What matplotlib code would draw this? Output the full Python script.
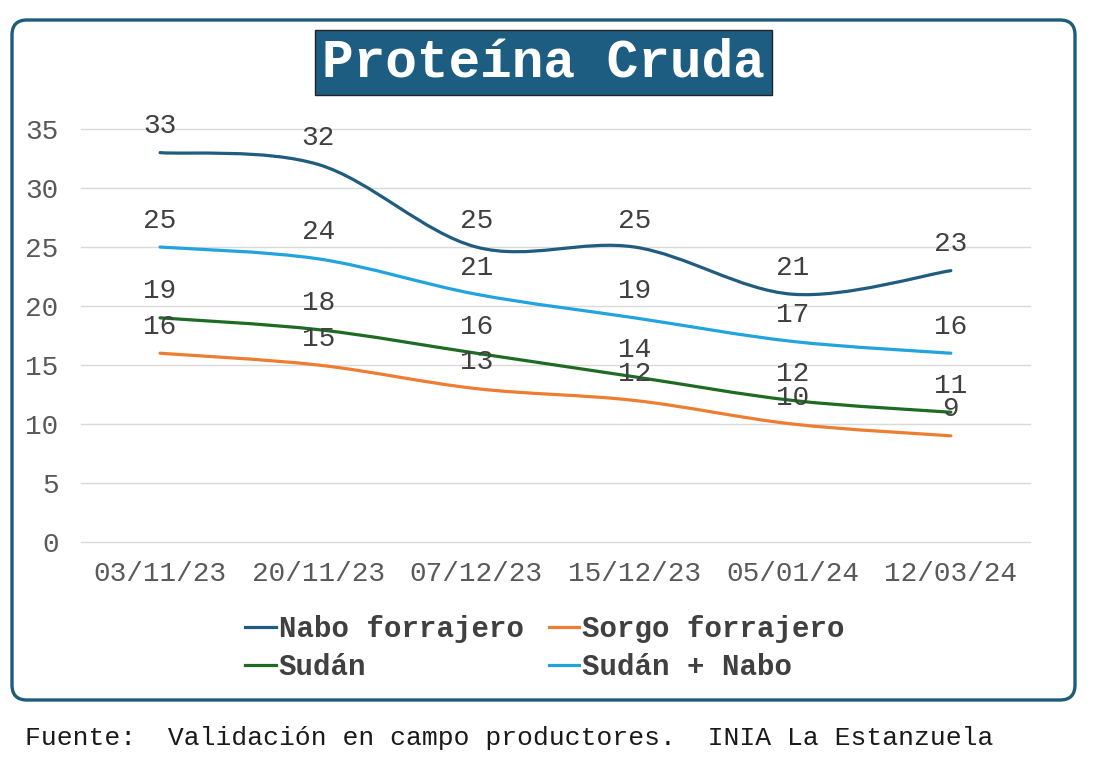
import matplotlib.pyplot as plt
from matplotlib.patches import FancyBboxPatch, PathPatch, Rectangle
from matplotlib.path import Path
from matplotlib.lines import Line2D

# data

fechas = ['03/11/23', '20/11/23', '07/12/23', '15/12/23', '05/01/24', '12/03/24']
nabo = [33, 32, 25, 25, 21, 23]
sorgo = [16, 15, 13, 12, 10, 9]
sudan = [19, 18, 16, 14, 12, 11]
sudan_nabo = [25, 24, 21, 19, 17, 16]

series = [('Nabo forrajero', nabo, '#1F5C7F'),
          ('Sorgo forrajero', sorgo, '#ED7D31'),
          ('Sudán', sudan, '#1E6B23'),
          ('Sudán + Nabo', sudan_nabo, '#21A3DD')]

FONT = 'Liberation Mono'


def smooth_path(xs, ys):
    # excel-like smoothed line: cubic bezier with catmull-rom control points
    pts = list(zip(xs, ys))
    verts = [pts[0]]
    codes = [Path.MOVETO]
    n = len(pts)
    for i in range(n - 1):
        p0 = pts[i - 1] if i > 0 else pts[i]
        p1 = pts[i]
        p2 = pts[i + 1]
        p3 = pts[i + 2] if i + 2 < n else pts[i + 1]
        c1 = (p1[0] + (p2[0] - p0[0]) / 6, p1[1] + (p2[1] - p0[1]) / 6)
        c2 = (p2[0] - (p3[0] - p1[0]) / 6, p2[1] - (p3[1] - p1[1]) / 6)
        verts += [c1, c2, p2]
        codes += [Path.CURVE4] * 3
    return Path(verts, codes)


fig = plt.figure(figsize=(11.12, 7.75), dpi=100)

# rounded frame around the chart
frame = FancyBboxPatch((0.12, 0.75), 10.63, 6.80,
                       boxstyle='round,pad=0,rounding_size=0.15',
                       transform=fig.dpi_scale_trans, facecolor='white',
                       edgecolor='#1F5C7A', linewidth=2.4, zorder=-1)
fig.patches.append(frame)

ax = fig.add_axes([0.0728, 0.3006, 0.8534, 0.5329])
ax.set_zorder(2)
ax.set_facecolor('none')
ax.set_xlim(-0.5, len(fechas) - 0.5)
ax.set_ylim(0, 35)
ax.set_yticks(range(0, 36, 5))
ax.set_xticks(range(len(fechas)))
ax.set_xticklabels(fechas)
for s in ax.spines.values():
    s.set_visible(False)
ax.grid(True, axis='y', color='#D9D9D9', linewidth=1)
ax.set_axisbelow(True)
for gl in ax.get_ygridlines():
    gl.set_clip_on(False)
ax.tick_params(axis='both', length=0, labelsize=20, labelcolor='#595959')
ax.tick_params(axis='y', pad=16)
ax.tick_params(axis='x', pad=14)
for lab in ax.get_xticklabels() + ax.get_yticklabels():
    lab.set_fontfamily(FONT)

xs = list(range(len(fechas)))
handles = []
for name, vals, col in series:
    patch = PathPatch(smooth_path(xs, vals), facecolor='none', edgecolor=col,
                      linewidth=2.3, capstyle='round', zorder=3)
    ax.add_patch(patch)
    for x, v in zip(xs, vals):
        ax.annotate(str(v), (x, v), xytext=(0, 19), textcoords='offset points',
                    ha='center', va='center', fontsize=20, color='#404040',
                    family=FONT, zorder=5)
    handles.append(Line2D([], [], color=col, linewidth=2.3, label=name))

# title box
title_box = Rectangle((3.15, 6.80), 4.57, 0.65, transform=fig.dpi_scale_trans,
                      facecolor='#1C5D81', edgecolor='#222222', linewidth=1, zorder=4)
fig.patches.append(title_box)
fig.text(5.435 / 11.12, 7.13 / 7.75, 'Proteína Cruda', ha='center', va='center',
         fontsize=38, fontweight='bold', color='white', family=FONT, zorder=5)

# legend is filled column by column, so reorder to get row-wise reading
leg_handles = [handles[0], handles[2], handles[1], handles[3]]
leg = fig.legend(handles=leg_handles, loc='center', bbox_to_anchor=(0.49, 0.164),
                 ncol=2, frameon=False, handlelength=1.05, handletextpad=0.1,
                 columnspacing=0.85, labelspacing=0.35,
                 prop={'family': FONT, 'weight': 'bold', 'size': 21})
for t in leg.get_texts():
    t.set_color('#404040')

fig.text(0.0225, 0.0477, 'Fuente:  Validación en campo productores.  INIA La Estanzuela',
         ha='left', va='center', fontsize=19, color='#1a1a1a', family=FONT)

fig.savefig('out.png', dpi=100)
